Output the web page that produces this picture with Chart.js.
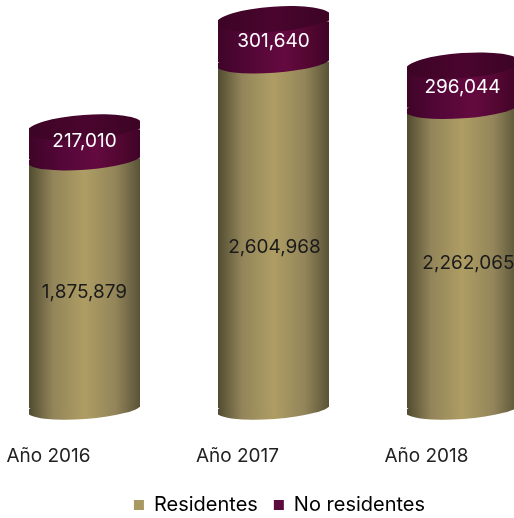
<!DOCTYPE html>
<html>
<head>
<meta charset="utf-8">
<script src="https://cdn.jsdelivr.net/npm/chart.js@4"></script>
<style>
  html, body { margin: 0; padding: 0; background: #fff; overflow: hidden; width: 514px; height: 518px; }
  #myChart { position: absolute; left: -10px; top: 0; }
</style>
</head>
<body>
<canvas id="myChart" width="579" height="525"></canvas>
<script>
const categories = ['Año 2016', 'Año 2017', 'Año 2018'];
const residentes = [1875879, 2604968, 2262065];
const noResidentes = [217010, 301640, 296044];

const fontName = 'Inter, sans-serif';
const tilt = -0.072; // las elipses estan un poco giradas
const capRy = 11;
const topRy = 12.5;
const topLift = 2.5;
// ajuste de las etiquetas respecto al centro de cada tramo
const darkLabelShift = [[0, 9], [1, 12], [6, 6]];
const lightLabelShift = [[0, -3], [0, 0], [0, 0]];

function sideGradient(ctx, left, right, stops) {
    const g = ctx.createLinearGradient(left, 0, right, 0);
    stops.forEach(s => g.addColorStop(s[0], s[1]));
    return g;
}

function brownFill(ctx, left, right) {
    return sideGradient(ctx, left, right, [[0, '#504b30'], [0.22, '#93855a'], [0.5, '#ae9d63'], [0.78, '#93855a'], [1, '#585236']]);
}

function maroonFill(ctx, left, right) {
    return sideGradient(ctx, left, right, [[0, '#3f0427'], [0.25, '#510636'], [0.6, '#640a40'], [0.85, '#50062f'], [1, '#3f0427']]);
}

function topFill(ctx, left, right) {
    return sideGradient(ctx, left, right, [[0, '#3c0425'], [0.5, '#4a052e'], [1, '#3c0425']]);
}

function barFill(kind) {
    return function(context) {
        const chart = context.chart;
        const x = chart.scales.x;
        if (!x) return kind === 'brown' ? '#ae9d63' : '#640a40';
        const c = x.getPixelForValue(context.dataIndex);
        const fn = kind === 'brown' ? brownFill : maroonFill;
        return fn(chart.ctx, c - 56, c + 56);
    };
}

// elipse un poco mas ancha que la barra y recortada a sus lados, asi quedan esquinas
function drawCap(ctx, x, y, rx, ry, fill) {
    ctx.save();
    ctx.beginPath();
    ctx.rect(x - rx, y - 40, rx * 2, 80);
    ctx.clip();
    ctx.beginPath();
    ctx.ellipse(x, y, rx * 1.03, ry, tilt, 0, Math.PI * 2);
    ctx.fillStyle = fill;
    ctx.fill();
    ctx.restore();
}

// tapas de los cilindros y recorte inclinado de las barras
const cylinderCaps = {
    id: 'cylinderCaps',
    beforeDatasetDraw(chart, args) {
        const ctx = chart.ctx;
        const bars = args.meta.data;
        const lift = args.index === 1 ? topLift : 0;
        ctx.save();
        if (args.index === 0) {
            bars.forEach(bar => {
                const rx = bar.width / 2;
                drawCap(ctx, bar.x, bar.base, rx, capRy, brownFill(ctx, bar.x - rx, bar.x + rx));
            });
        }
        ctx.beginPath();
        bars.forEach(bar => {
            const rx = bar.width / 2;
            const d = rx * Math.sin(-tilt);
            ctx.moveTo(bar.x - rx, bar.y + d - lift);
            ctx.lineTo(bar.x + rx, bar.y - d - lift);
            ctx.lineTo(bar.x + rx, bar.base - d);
            ctx.lineTo(bar.x - rx, bar.base + d);
            ctx.closePath();
        });
        ctx.clip();
    },
    afterDatasetDraw(chart) {
        chart.ctx.restore();
    },
    afterDatasetsDraw(chart) {
        const ctx = chart.ctx;
        chart.getDatasetMeta(1).data.forEach(bar => {
            const rx = bar.width / 2;
            // parte baja del tramo guinda sobre el tramo cafe
            drawCap(ctx, bar.x, bar.base, rx, capRy, maroonFill(ctx, bar.x - rx, bar.x + rx));
            // relleno bajo la tapa para que no quede hueco a la derecha
            drawCap(ctx, bar.x, bar.y, rx, capRy, maroonFill(ctx, bar.x - rx, bar.x + rx));
            drawCap(ctx, bar.x, bar.y - topLift, rx, topRy, topFill(ctx, bar.x - rx, bar.x + rx));
        });
        ctx.save();
        ctx.font = '19px ' + fontName;
        ctx.textAlign = 'center';
        ctx.textBaseline = 'middle';
        chart.getDatasetMeta(0).data.forEach((bar, i) => {
            ctx.fillStyle = '#1a1a1a';
            ctx.fillText(residentes[i].toLocaleString('en-US'), bar.x + darkLabelShift[i][0], (bar.y + bar.base) / 2 + darkLabelShift[i][1]);
        });
        chart.getDatasetMeta(1).data.forEach((bar, i) => {
            ctx.fillStyle = '#ffffff';
            ctx.fillText(noResidentes[i].toLocaleString('en-US'), bar.x + lightLabelShift[i][0], (bar.y + bar.base) / 2 + lightLabelShift[i][1]);
        });
        ctx.restore();
    }
};

new Chart(document.getElementById('myChart').getContext('2d'), {
    type: 'bar',
    data: {
        labels: categories,
        datasets: [
            { label: 'Residentes', data: residentes, backgroundColor: barFill('brown'), borderWidth: 0 },
            { label: 'No residentes', data: noResidentes, backgroundColor: barFill('maroon'), borderWidth: 0 }
        ]
    },
    options: {
        responsive: false,
        animation: false,
        datasets: { bar: { barThickness: 111 } },
        scales: {
            x: {
                stacked: true,
                grid: { display: false },
                border: { display: false },
                ticks: { color: '#222', padding: 29, labelOffset: -36, maxRotation: 0, font: { family: fontName, size: 19 } },
                afterFit(scale) { scale.height = 71; }
            },
            y: {
                stacked: true,
                position: 'right',
                min: 0,
                max: 3070000,
                grid: { display: false },
                border: { display: false },
                ticks: { display: false },
                afterFit(scale) { scale.width = 12; }
            }
        },
        plugins: {
            tooltip: { enabled: false },
            legend: {
                position: 'bottom',
                labels: {
                    color: '#222',
                    boxWidth: 10,
                    boxHeight: 10,
                    padding: 16,
                    font: { family: fontName, size: 20 },
                    generateLabels(chart) {
                        return [
                            { text: 'Residentes', fillStyle: '#a89862', strokeStyle: '#a89862', lineWidth: 0, datasetIndex: 0 },
                            { text: 'No residentes', fillStyle: '#5d0a3c', strokeStyle: '#5d0a3c', lineWidth: 0, datasetIndex: 1 }
                        ];
                    }
                }
            }
        }
    },
    plugins: [cylinderCaps]
});
</script>
</body>
</html>
